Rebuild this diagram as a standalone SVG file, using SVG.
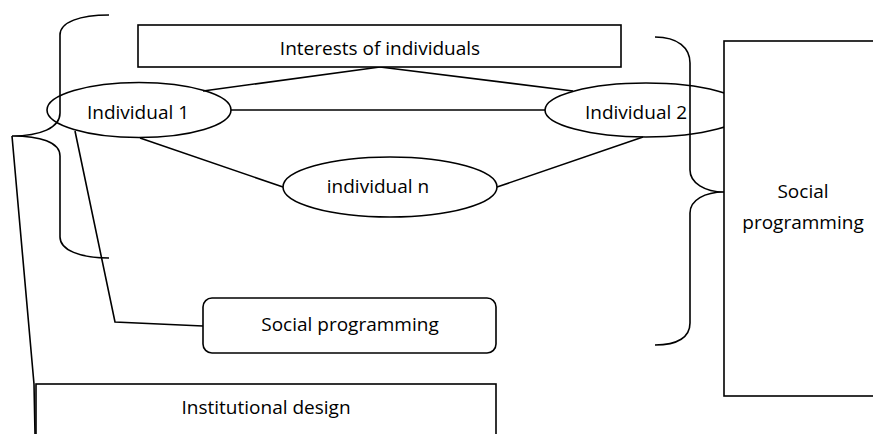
<svg xmlns="http://www.w3.org/2000/svg" width="873" height="434" viewBox="0 0 873 434">
  <style>
    .ln { fill: none; stroke: #000; stroke-width: 1.6; }
    .box { fill: #fff; stroke: #000; stroke-width: 1.6; }
    .ell { fill: none; stroke: #000; stroke-width: 1.6; }
    text { font-family: "Open Sans", "Liberation Sans", sans-serif; font-size: 19px; fill: #000; text-anchor: middle; }
  </style>
  <rect width="873" height="434" fill="#fff"/>

  <!-- connectors -->
  <g id="connectors">
    <path class="ln" d="M380,67 L203,91"/>
    <path class="ln" d="M380,67 L573,91"/>
    <path class="ln" d="M231,110 L545,110"/>
    <path class="ln" d="M140,138 L283,187"/>
    <path class="ln" d="M497,187 L643,137"/>
    <path class="ln" d="M75,131 L115,322 L203,326"/>
    <path class="ln" d="M12,136 L34,384 L35,434"/>
  </g>

  <!-- braces -->
  <g id="brace-left">
    <path class="ln" d="M109,15 C80,15 60,22 60,35 L60,113 C60,128 40,136 12,136 C40,136 60,142 60,156 L60,237 C60,250 80,258 109,258"/>
  </g>
  <g id="brace-right">
    <path class="ln" d="M655,37 C678,37 690,48 690,63 L690,170 C690,183 705,192 724,192 C705,192 690,200 690,213 L690,323 C690,337 678,345 655,345"/>
  </g>

  <g id="interests">
    <rect class="box" x="138" y="25" width="483" height="42"/>
    <text x="380" y="55">Interests of individuals</text>
  </g>

  <g id="individual-1">
    <ellipse class="ell" cx="139" cy="110" rx="92" ry="27.5"/>
    <text x="138" y="119">Individual 1</text>
  </g>

  <g id="individual-2">
    <ellipse class="ell" cx="646" cy="110" rx="101" ry="27"/>
    <text x="636" y="119">Individual 2</text>
  </g>

  <g id="individual-n">
    <ellipse class="ell" cx="390" cy="187" rx="107" ry="30"/>
    <text x="378" y="193">individual n</text>
  </g>

  <g id="social-programming-box">
    <rect class="box" x="203" y="298" width="293" height="55" rx="9"/>
    <text x="350" y="331">Social programming</text>
  </g>

  <g id="institutional-design">
    <rect class="box" x="36" y="384" width="460" height="70"/>
    <text x="266" y="414">Institutional design</text>
  </g>

  <g id="social-programming-side">
    <rect class="box" x="724" y="41" width="160" height="355"/>
    <text x="803" y="198">Social</text>
    <text x="803" y="229">programming</text>
  </g>
</svg>
